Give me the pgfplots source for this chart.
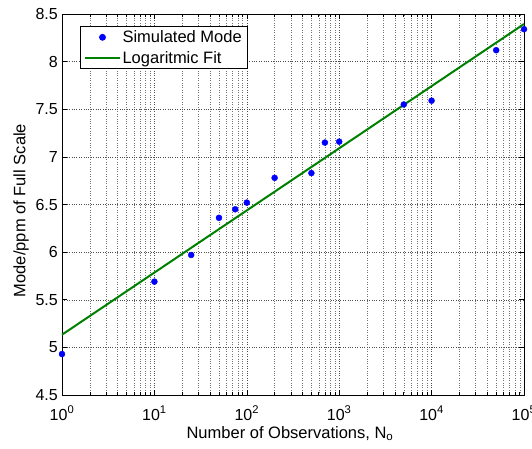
\documentclass[border=0pt]{standalone}
\usepackage{fontspec}
\setmainfont{Liberation Sans}
\usepackage{pgfplots}
\pgfplotsset{compat=1.18}
\definecolor{mgreen}{rgb}{0,0.5,0}
\pgfplotsset{
  legdot/.style={legend image code/.code={\draw[mark repeat=2,mark phase=2,##1] plot coordinates {(0cm,0cm)(0.6cm,0cm)(1.2cm,0cm)};}},
  legline/.style={legend image code/.code={\draw[##1] (0cm,0cm) -- (1.2cm,0cm);}},
}
\begin{document}
\begin{tikzpicture}
\useasboundingbox (-62pt,-53pt) rectangle (470pt,395pt);
\begin{axis}[
  at={(0,0)}, anchor=south west,
  scale only axis, width=462pt, height=381pt,
  xmode=log, xmin=1, xmax=100000, ymin=4.5, ymax=8.5,
  log basis x=10,
  xtick={1,10,100,1000,10000,100000},
  xticklabels={10\textsuperscript{0},10\textsuperscript{1},10\textsuperscript{2},10\textsuperscript{3},10\textsuperscript{4},10\textsuperscript{5}},
  minor xtick={2,3,4,5,6,7,8,9,20,30,40,50,60,70,80,90,200,300,400,500,600,700,800,900,2000,3000,4000,5000,6000,7000,8000,9000,20000,30000,40000,50000,60000,70000,80000,90000},
  ytick={4.5,5,5.5,6,6.5,7,7.5,8,8.5},
  /pgf/number format/assume math mode=true,
  yticklabel style={/pgf/number format/fixed, anchor=east, inner xsep=0pt, xshift=-4pt},
  xticklabel style={anchor=base, yshift=-25pt},
  tick label style={font=\fontsize{16}{19}\selectfont},
  label style={font=\fontsize{16.5}{19}\selectfont},
  xlabel={Number of Observations, N\textsubscript{o}},
  ylabel={Mode/ppm of Full Scale},
  xlabel style={at={(axis description cs:0.5,0)}, anchor=base, yshift=-43pt, xshift=-3pt},
  ylabel style={at={(axis description cs:0,0.5)}, anchor=center, yshift=41pt, xshift=-6pt},
  tick align=inside,
  major tick length=5pt, minor tick length=3pt,
  xmajorgrids, xminorgrids, ymajorgrids,
  major grid style={dotted, black!70},
  minor grid style={dotted, black!55},
  axis line style={black, line width=0.8pt},
  every tick/.style={black, line width=0.6pt},
  legend style={at={(rel axis cs:0.039,0.968)}, anchor=north west, draw=black, line width=0.8pt,
    font=\fontsize{16.5}{19}\selectfont, inner xsep=4pt, inner ysep=2pt, row sep=3pt, cells={anchor=west}},
  clip=false,
]
\addplot[only marks, mark=*, mark size=3pt, color=blue, legdot]
  coordinates {
  (1,4.93) (10,5.69) (25,5.97) (50,6.36) (75,6.45) (100,6.52) (200,6.78)
  (500,6.83) (700,7.15) (1000,7.16) (5000,7.55) (10000,7.59) (50000,8.12) (100000,8.34)
  };
\addlegendentry{Simulated Mode}
\addplot[color=mgreen, line width=2pt, legline]
  coordinates {(1,5.133) (100000,8.395)};
\addlegendentry{Logaritmic Fit}
\end{axis}
\end{tikzpicture}
\end{document}
